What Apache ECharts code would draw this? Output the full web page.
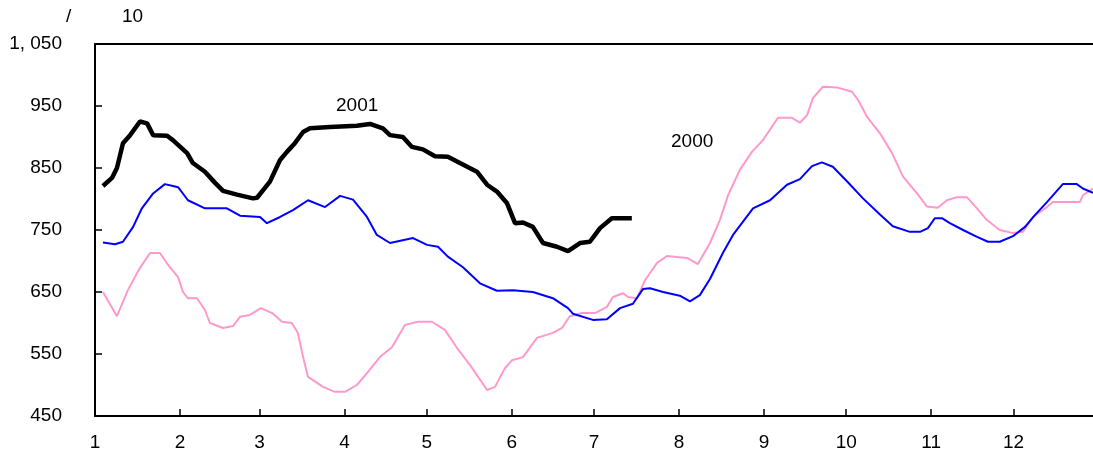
<!DOCTYPE html>
<html>
<head>
<meta charset="utf-8">
<script src="https://cdn.jsdelivr.net/npm/echarts@6/dist/echarts.min.js"></script>
<style>
  html, body { margin: 0; padding: 0; background: #fff; }
  #chart { width: 1093px; height: 464px; }
</style>
</head>
<body>
<div id="chart"></div>
<script>
// Day-of-year (0 = Jan 1) at which each month starts, and the month labels.
const monthStarts = [0, 31, 60, 91, 121, 152, 182, 213, 244, 274, 305, 335];
const monthLabels = ['1', '2', '3', '4', '5', '6', '7', '8', '9', '10', '11', '12'];

// Y-axis tick values.
const yTicks = [450, 550, 650, 750, 850, 950, 1050];

// 2000 series: [day of year, value]
const series2000 = [
  [2.9, 650], [8.0, 611], [12.0, 653], [16.4, 689], [20.1, 713], [23.7, 713],
  [26.6, 694], [30.3, 674], [32.1, 650], [33.9, 640], [37.2, 640], [40.1, 621],
  [41.9, 600], [46.7, 592], [50.3, 595], [52.9, 610], [56.5, 613], [60.5, 624],
  [64.6, 616], [68.2, 602], [71.8, 600], [74.0, 584], [75.9, 545], [77.7, 513],
  [83.2, 497], [87.5, 489], [91.2, 489], [95.5, 500], [99.2, 519], [103.9, 545],
  [108.3, 561], [113.1, 597], [117.8, 602], [122.9, 602], [127.6, 589], [132.0, 560],
  [136.8, 532], [143.0, 492], [145.9, 497], [149.5, 527], [152.1, 540], [156.1, 545],
  [161.2, 576], [167.0, 584], [170.3, 592], [173.2, 611], [177.6, 616], [182.4, 616],
  [186.7, 626], [188.9, 642], [192.6, 648], [194.4, 642], [197.7, 640], [200.6, 669],
  [205.0, 697], [208.6, 708], [215.9, 705], [219.9, 695], [224.3, 729], [227.9, 766],
  [230.9, 806], [235.2, 847], [239.6, 876], [243.6, 895], [249.1, 931], [254.2, 931],
  [257.1, 923], [259.7, 935], [261.9, 963], [265.5, 981], [270.6, 980], [276.1, 973],
  [278.3, 960], [281.5, 933], [286.3, 906], [290.7, 874], [294.7, 836], [299.8, 809],
  [303.4, 788], [307.4, 786], [310.7, 798], [314.4, 803], [318.0, 803], [321.7, 785],
  [325.3, 766], [330.0, 750], [334.8, 745], [338.4, 747], [342.1, 771], [347.2, 787],
  [349.4, 795], [359.2, 795], [360.3, 806], [364.0, 817]
];

// Average-year series (blue): [day of year, value]
const seriesAverage = [
  [2.9, 730], [7.3, 727], [10.2, 731], [13.9, 755], [17.1, 785], [21.2, 809],
  [25.5, 824], [28.4, 821], [30.3, 819], [33.9, 798], [40.1, 785], [48.1, 785],
  [52.9, 773], [60.2, 771], [62.7, 761], [67.5, 771], [72.2, 782], [77.7, 798],
  [83.9, 787], [89.4, 805], [94.1, 799], [99.2, 771], [102.8, 742], [107.6, 729],
  [116.0, 737], [121.1, 726], [125.1, 723], [128.7, 707], [134.2, 690], [140.4, 664],
  [146.6, 652], [152.4, 653], [159.7, 650], [167.0, 640], [172.5, 624], [174.3, 615],
  [181.6, 605], [186.7, 606], [191.5, 624], [196.2, 631], [199.9, 655], [202.4, 656],
  [207.2, 650], [213.3, 644], [217.0, 635], [220.6, 645], [224.3, 671], [229.0, 713],
  [232.7, 742], [240.0, 785], [246.2, 798], [252.4, 823], [257.1, 832], [261.5, 853],
  [265.1, 859], [269.1, 852], [274.6, 827], [280.1, 801], [286.3, 775], [291.0, 756],
  [297.2, 747], [300.9, 747], [303.8, 753], [306.3, 769], [308.9, 769], [311.8, 761],
  [316.6, 750], [321.7, 739], [325.7, 731], [330.0, 731], [334.8, 740], [339.2, 755],
  [342.8, 774], [347.2, 795], [353.0, 824], [358.1, 824], [360.3, 817], [364.0, 810]
];

// 2001 series: [day of year, value]
const series2001 = [
  [2.9, 821], [6.2, 834], [8.0, 850], [10.2, 890], [12.8, 903], [16.4, 925],
  [19.0, 922], [21.2, 903], [26.3, 902], [28.4, 895], [33.6, 874], [35.7, 858],
  [40.1, 844], [43.8, 826], [46.7, 813], [51.8, 807], [57.6, 801], [59.1, 802],
  [63.8, 828], [67.5, 863], [70.0, 876], [72.9, 890], [75.9, 908], [78.4, 914],
  [85.7, 916], [95.5, 918], [100.3, 921], [105.0, 914], [107.6, 903], [112.3, 900],
  [115.6, 884], [119.6, 880], [124.0, 869], [128.7, 868], [133.1, 858], [139.3, 844],
  [143.0, 823], [146.6, 812], [150.3, 793], [153.2, 761], [156.1, 762], [159.7, 755],
  [163.4, 729], [168.5, 723], [172.5, 716], [176.9, 729], [180.5, 731], [184.2, 753],
  [188.5, 769], [195.8, 769]
];

const FONT = '"Liberation Sans", Arial, sans-serif';
const FS = 19;
const chart = echarts.init(document.getElementById('chart'), null, { renderer: 'canvas' });

// Thousands separated as "1, 050"
function fmtThousands(v) {
  return v >= 1000 ? Math.floor(v / 1000) + ', ' + String(v % 1000).padStart(3, '0') : String(v);
}

chart.setOption({
  animation: false,
  backgroundColor: '#fff',
  grid: { left: 95, right: 0, top: 44, bottom: 48, containLabel: false },
  xAxis: [{
    type: 'value', min: 0, max: 364,
    axisLine: { show: true, onZero: false, lineStyle: { color: '#000', width: 2 } },
    axisTick: { show: true, inside: true, length: 7, customValues: monthStarts.slice(1),
      lineStyle: { color: '#000', width: 1.5 } },
    axisLabel: { show: true, customValues: monthStarts, margin: 17,
      formatter: v => monthLabels[monthStarts.indexOf(v)] || '',
      color: '#000', fontSize: FS, fontFamily: FONT },
    splitLine: { show: false }
  }, {
    type: 'value', min: 0, max: 364, position: 'top',
    axisLine: { show: true, onZero: false, lineStyle: { color: '#000', width: 2 } },
    axisTick: { show: false }, axisLabel: { show: false }, splitLine: { show: false }
  }],
  yAxis: {
    type: 'value', min: 450, max: 1050, interval: 100,
    axisLine: { show: true, onZero: false, lineStyle: { color: '#000', width: 2 } },
    axisTick: { show: true, inside: true, length: 7, lineStyle: { color: '#000', width: 1.5 } },
    axisLabel: { margin: 33, color: '#000', fontSize: FS, fontFamily: FONT,
      customValues: yTicks, formatter: fmtThousands },
    splitLine: { show: false }
  },
  series: [
    { name: '2000', type: 'line', data: series2000, showSymbol: false,
      lineStyle: { color: '#ff99cc', width: 2 }, z: 2 },
    { name: 'avg', type: 'line', data: seriesAverage, showSymbol: false,
      lineStyle: { color: '#0000ff', width: 2 }, z: 3 },
    { name: '2001', type: 'line', data: series2001, showSymbol: false,
      lineStyle: { color: '#000', width: 4.5 }, z: 4 }
  ],
  graphic: [
    { type: 'text', left: 66, top: 7, style: { text: '/', font: FS + 'px ' + FONT, fill: '#000' } },
    { type: 'text', left: 122, top: 7, style: { text: '10', font: FS + 'px ' + FONT, fill: '#000' } },
    { type: 'text', left: 336, top: 96, style: { text: '2001', font: FS + 'px ' + FONT, fill: '#000' } },
    { type: 'text', left: 671, top: 132, style: { text: '2000', font: FS + 'px ' + FONT, fill: '#000' } }
  ]
});
</script>
</body>
</html>
